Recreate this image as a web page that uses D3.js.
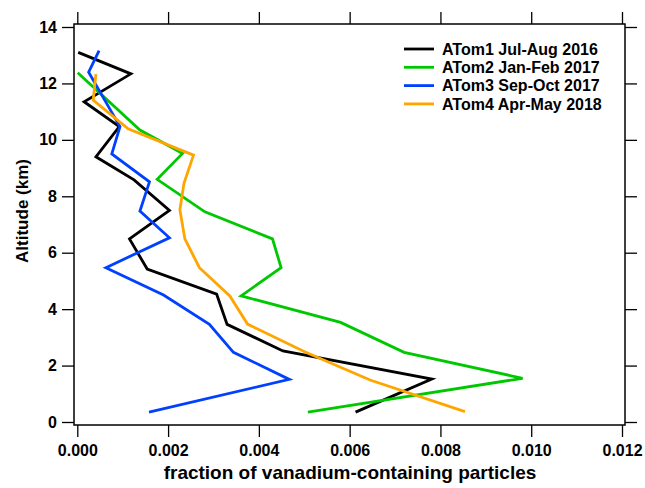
<!DOCTYPE html>
<html>
<head>
<meta charset="utf-8">
<script src="https://cdn.jsdelivr.net/npm/d3@7"></script>
<style>
  body { margin: 0; background: #fff; }
  svg { display: block; font-family: "Liberation Sans", Arial, Helvetica, sans-serif; font-weight: bold; }
</style>
</head>
<body>
<svg width="645" height="488"></svg>
<script>
// values (fraction, altitude km)
const atom1Alt = [13.1, 12.34, 11.35, 10.47, 9.4, 8.58, 7.5, 6.49, 5.42, 4.53, 3.46, 2.52, 1.52, 0.35];
const atom1Val = [0.00002, 0.00118, 0.00015, 0.000925, 0.00041, 0.00125, 0.00203, 0.00115, 0.00154, 0.00307, 0.0033, 0.00453, 0.00781, 0.00613];

const atom2Alt = [12.38, 10.35, 9.52, 8.6, 7.45, 6.49, 5.47, 4.47, 3.53, 2.47, 1.55, 0.35];
const atom2Val = [0.00001, 0.00138, 0.00232, 0.00176, 0.00281, 0.0043, 0.00449, 0.00361, 0.0058, 0.0072, 0.00981, 0.00508];

const atom3Alt = [13.16, 12.4, 10.47, 9.5, 8.51, 7.48, 6.53, 5.47, 4.5, 3.46, 2.47, 1.51, 0.35];
const atom3Val = [0.00048, 0.00025, 0.00094, 0.00076, 0.00159, 0.00138, 0.00203, 0.00063, 0.0019, 0.00291, 0.00344, 0.00467, 0.00158];

const atom4Alt = [12.33, 11.41, 10.39, 9.46, 8.46, 7.52, 6.49, 5.47, 4.47, 3.47, 2.48, 1.49, 0.37];
const atom4Val = [0.00041, 0.00035, 0.00112, 0.00256, 0.00235, 0.00226, 0.00237, 0.00269, 0.00336, 0.00375, 0.00502, 0.00645, 0.00854];

const seriesNames = ['ATom1 Jul-Aug 2016', 'ATom2 Jan-Feb 2017', 'ATom3 Sep-Oct 2017', 'ATom4 Apr-May 2018'];
const seriesColors = ['#000000', '#00c800', '#0040ff', '#ffa500'];
const xTicks = [0, 0.002, 0.004, 0.006, 0.008, 0.01, 0.012];
const yTicks = [0, 2, 4, 6, 8, 10, 12, 14];

const svg = d3.select('svg');

const frame = {left: 74, top: 24, right: 625, bottom: 425};

const xScale = d3.scaleLinear().domain([0, 0.012]).range([77.3, 622]);
const yScale = d3.scaleLinear().domain([0, 14]).range([422, 27]);

const series = [
  {name: seriesNames[0], color: seriesColors[0], alt: atom1Alt, val: atom1Val},
  {name: seriesNames[1], color: seriesColors[1], alt: atom2Alt, val: atom2Val},
  {name: seriesNames[2], color: seriesColors[2], alt: atom3Alt, val: atom3Val},
  {name: seriesNames[3], color: seriesColors[3], alt: atom4Alt, val: atom4Val}
];

const line = d3.line()
  .x(d => xScale(d[0]))
  .y(d => yScale(d[1]));

// data lines
svg.append('g')
  .selectAll('path')
  .data(series)
  .enter().append('path')
    .attr('d', s => line(s.val.map((v, i) => [v, s.alt[i]])))
    .attr('fill', 'none')
    .attr('stroke', s => s.color)
    .attr('stroke-width', 2.8)
    .attr('stroke-linejoin', 'miter');

// axes (ticks outside on all four sides)
const styleAxis = g => {
  g.select('.domain').remove();
  g.selectAll('.tick line').attr('stroke', '#000').attr('stroke-width', 1.3);
  g.selectAll('.tick text').attr('fill', '#000').style('font-size', '16px').style('font-weight', 'bold');
};

svg.append('g')
  .attr('transform', `translate(0,${frame.bottom})`)
  .call(d3.axisBottom(xScale).tickValues(xTicks).tickSize(12).tickPadding(8).tickFormat(d3.format('.3f')))
  .call(styleAxis);

svg.append('g')
  .attr('transform', `translate(0,${frame.top})`)
  .call(d3.axisTop(xScale).tickValues(xTicks).tickSize(12).tickFormat(''))
  .call(styleAxis);

svg.append('g')
  .attr('transform', `translate(${frame.left},0)`)
  .call(d3.axisLeft(yScale).tickValues(yTicks).tickSize(12).tickPadding(5).tickFormat(d3.format('d')))
  .call(styleAxis);

svg.append('g')
  .attr('transform', `translate(${frame.right},0)`)
  .call(d3.axisRight(yScale).tickValues(yTicks).tickSize(12).tickFormat(''))
  .call(styleAxis);

// frame
svg.append('rect')
  .attr('x', frame.left)
  .attr('y', frame.top)
  .attr('width', frame.right - frame.left)
  .attr('height', frame.bottom - frame.top)
  .attr('fill', 'none')
  .attr('stroke', '#000')
  .attr('stroke-width', 1.5);

// titles
svg.append('text')
  .attr('x', 350)
  .attr('y', 479)
  .attr('text-anchor', 'middle')
  .style('font-size', '19px')
  .text('fraction of vanadium-containing particles');

svg.append('text')
  .attr('transform', 'translate(28,211) rotate(-90)')
  .attr('text-anchor', 'middle')
  .style('font-size', '17px')
  .text('Altitude (km)');

// legend
const legend = svg.append('g').attr('transform', 'translate(404,49)');
const item = legend.selectAll('g')
  .data(series)
  .enter().append('g')
    .attr('transform', (d, i) => `translate(0,${i * 18.3})`);

item.append('line')
  .attr('x1', 0).attr('x2', 30)
  .attr('stroke', d => d.color)
  .attr('stroke-width', 2.8);

item.append('text')
  .attr('x', 38)
  .attr('y', 5.6)
  .style('font-size', '16px')
  .text(d => d.name);
</script>
</body>
</html>
